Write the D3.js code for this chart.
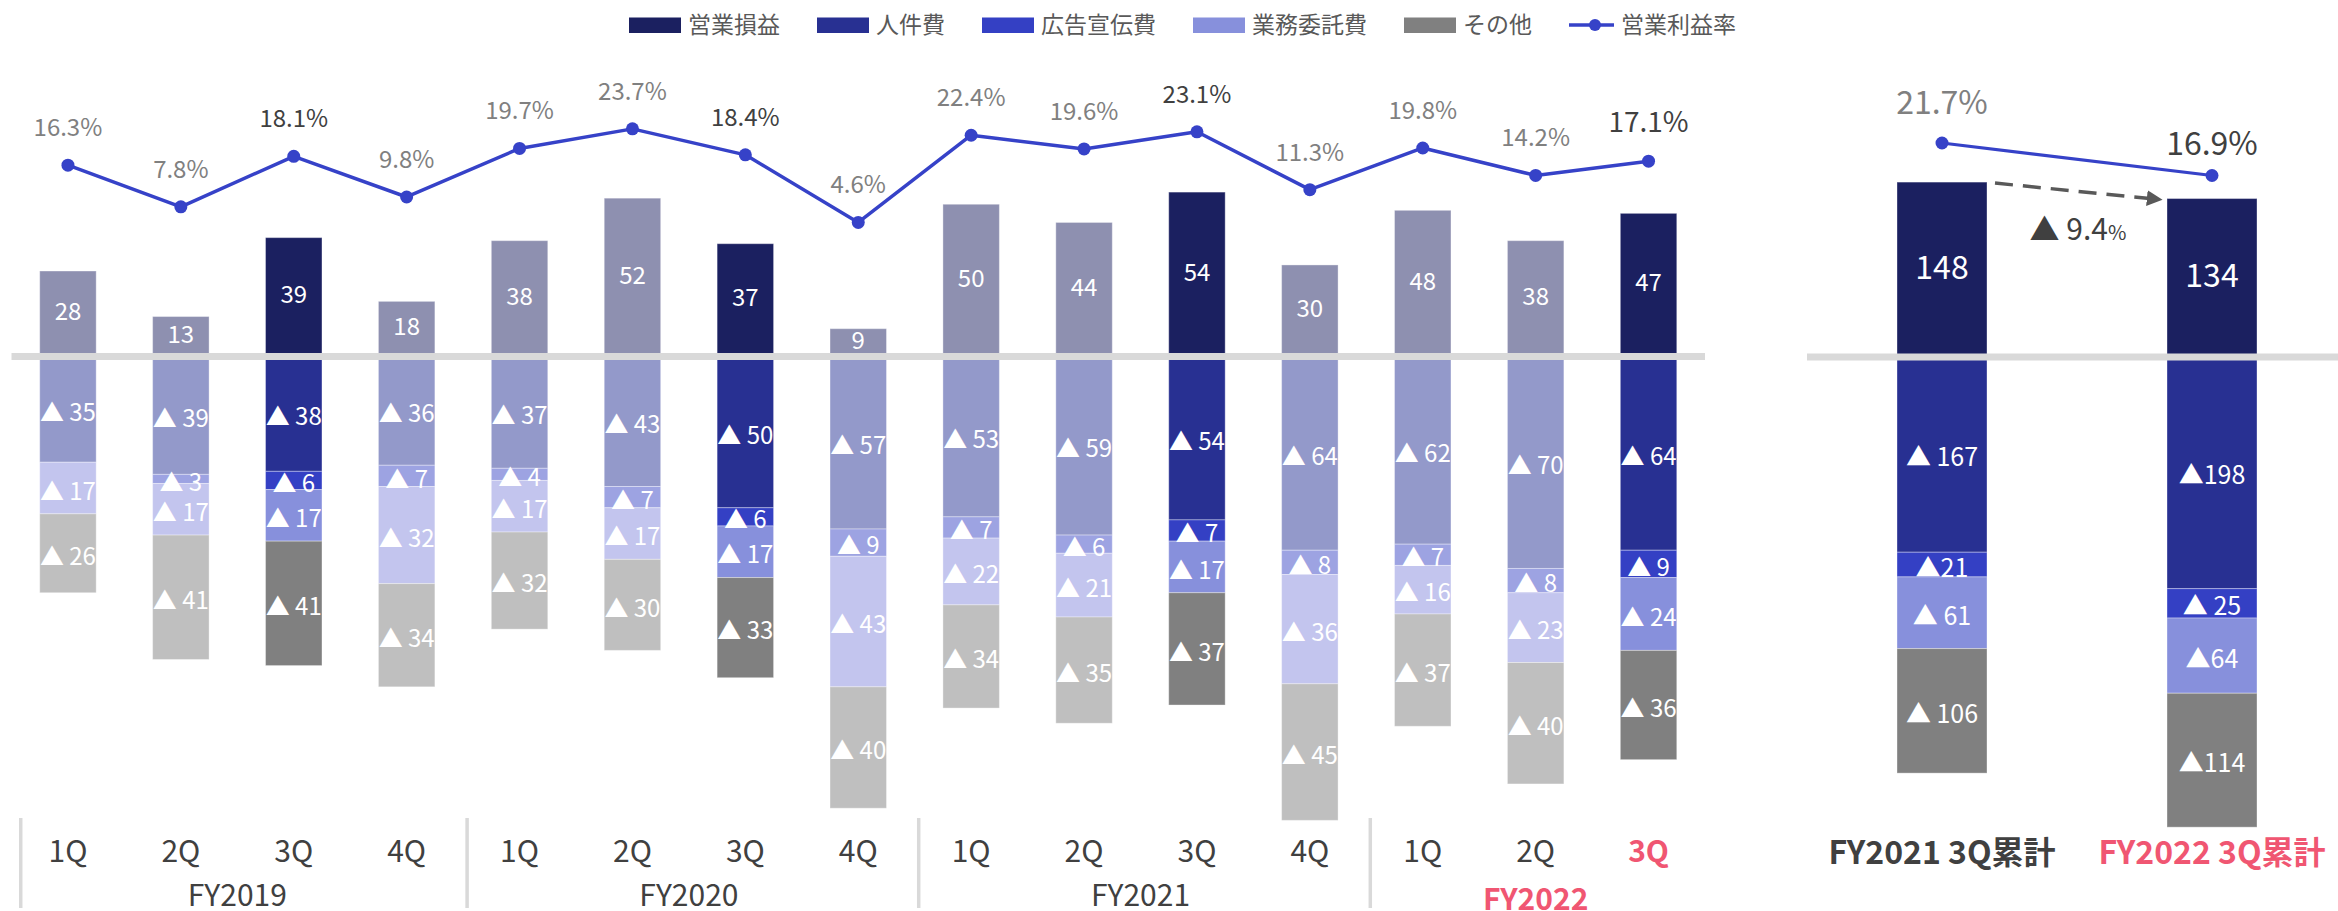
<!DOCTYPE html>
<html>
<head>
<meta charset="utf-8">
<script src="https://cdn.jsdelivr.net/npm/d3@7"></script>
<style>
  html, body { margin: 0; padding: 0; background: #fff; }
  svg { display: block; }
  text { font-family: "Noto Sans CJK JP", "Noto Sans", sans-serif; }
</style>
</head>
<body>
<svg id="chart" width="2338" height="911"></svg>
<script>
// ---------------- DATA ----------------
const quarters = ["1Q","2Q","3Q","4Q","1Q","2Q","3Q","4Q","1Q","2Q","3Q","4Q","1Q","2Q","3Q"];
const fiscalYears = ["FY2019","FY2020","FY2021","FY2022"];
const profit      = [28, 13, 39, 18, 38, 52, 37,  9, 50, 44, 54, 30, 48, 38, 47];
const personnel   = [35, 39, 38, 36, 37, 43, 50, 57, 53, 59, 54, 64, 62, 70, 64];
const advertising = [ 0,  3,  6,  7,  4,  7,  6,  9,  7,  6,  7,  8,  7,  8,  9];
const outsourcing = [17, 17, 17, 32, 17, 17, 17, 43, 22, 21, 17, 36, 16, 23, 24];
const other       = [26, 41, 41, 34, 32, 30, 33, 40, 34, 35, 37, 45, 37, 40, 36];
const margin      = [16.3, 7.8, 18.1, 9.8, 19.7, 23.7, 18.4, 4.6, 22.4, 19.6, 23.1, 11.3, 19.8, 14.2, 17.1];

const cumCategories  = ["FY2021 3Q累計", "FY2022 3Q累計"];
const cumProfit      = [148, 134];
const cumPersonnel   = [167, 198];
const cumAdvertising = [21, 25];
const cumOutsourcing = [61, 64];
const cumOther       = [106, 114];
const cumMargin      = [21.7, 16.9];
const cumCostLabels  = [["▲ 167","▲21","▲ 61","▲ 106"], ["▲198","▲ 25","▲64","▲114"]];
const cumChange      = "9.4";

const legendLabels = ["営業損益","人件費","広告宣伝費","業務委託費","その他","営業利益率"];

// ---------------- STYLE ----------------
const strong = ["#1b2060", "#283092", "#3440c4", "#8790dc", "#808080"];
const faded  = ["#8e90b0", "#9399ca", "#9da3e2", "#c3c5ee", "#bfbfbf"];
const lineColor = "#3642c8";
const pink = "#f05672";
const dark = "#404040";
const grey = "#808080";

const svg = d3.select("#chart");
const font = '"Noto Sans CJK JP", "Noto Sans", sans-serif';

// ---------------- SCALES ----------------
const idx = d3.range(quarters.length);
const x = d3.scaleBand().domain(idx).range([11.5, 1705]).paddingInner(0.5).paddingOuter(0.25);
const y = d3.scaleLinear().domain([-150, 60]).range([356 + 150 * 3.035, 356 - 60 * 3.035]);
const yP = d3.scaleLinear().domain([0, 25]).range([245, 245 - 25 * 4.9]);

const xr = d3.scaleBand().domain([0, 1]).range([1807, 2347]).paddingInner(2 / 3).paddingOuter(1 / 3);
const yr = d3.scaleLinear().domain([-410, 150]).range([356 + 410 * 1.175, 356 - 150 * 1.175]);
const yPr = d3.scaleLinear().domain([0, 25]).range([289.9, 289.9 - 25 * 6.77]);

const isHL = i => quarters[i] === "3Q";

// ---------------- LEFT BARS ----------------
const gBars = svg.append("g");
const gLabels = svg.append("g");
idx.forEach(i => {
  const pal = isHL(i) ? strong : faded;
  const bx = x(i), bw = x.bandwidth(), cx = bx + bw / 2;
  // profit
  gBars.append("rect").attr("x", bx).attr("width", bw)
    .attr("y", y(profit[i])).attr("height", y(0) - y(profit[i]))
    .attr("fill", pal[0]).attr("stroke", "rgba(255,255,255,0.35)").attr("stroke-width", 1);
  gLabels.append("text").attr("x", cx).attr("y", (y(profit[i]) + y(0)) / 2 - 2).attr("dy", "0.36em")
    .attr("text-anchor", "middle").attr("fill", "#fff").attr("font-size", 24).text(profit[i]);
  // costs
  const costs = [personnel[i], advertising[i], outsourcing[i], other[i]];
  let acc = 0;
  costs.forEach((v, k) => {
    if (v <= 0) return;
    const top = y(-acc), bot = y(-(acc + v));
    gBars.append("rect").attr("x", bx).attr("width", bw)
      .attr("y", top).attr("height", bot - top)
      .attr("fill", pal[k + 1]).attr("stroke", "rgba(255,255,255,0.35)").attr("stroke-width", 1);
    gLabels.append("text").attr("x", cx).attr("y", (top + bot) / 2 + 3).attr("dy", "0.36em")
      .attr("text-anchor", "middle").attr("fill", "#fff").attr("font-size", 24).text("▲ " + v);
    acc += v;
  });
});

// ---------------- RIGHT BARS ----------------
[0, 1].forEach(j => {
  const bx = xr(j), bw = xr.bandwidth(), cx = bx + bw / 2;
  gBars.append("rect").attr("x", bx).attr("width", bw)
    .attr("y", yr(cumProfit[j])).attr("height", yr(0) - yr(cumProfit[j]))
    .attr("fill", strong[0]).attr("stroke", "rgba(255,255,255,0.35)").attr("stroke-width", 1);
  gLabels.append("text").attr("x", cx).attr("y", (yr(cumProfit[j]) + yr(0)) / 2 - 2).attr("dy", "0.36em")
    .attr("text-anchor", "middle").attr("fill", "#fff").attr("font-size", 32).text(cumProfit[j]);
  const costs = [cumPersonnel[j], cumAdvertising[j], cumOutsourcing[j], cumOther[j]];
  let acc = 0;
  costs.forEach((v, k) => {
    const top = yr(-acc), bot = yr(-(acc + v));
    gBars.append("rect").attr("x", bx).attr("width", bw)
      .attr("y", top).attr("height", bot - top)
      .attr("fill", strong[k + 1]).attr("stroke", "rgba(255,255,255,0.35)").attr("stroke-width", 1);
    gLabels.append("text").attr("x", cx).attr("y", (top + bot) / 2 + 3).attr("dy", "0.36em")
      .attr("text-anchor", "middle").attr("fill", "#fff").attr("font-size", 25).text(cumCostLabels[j][k]);
    acc += v;
  });
});

// ---------------- ZERO LINES ----------------
gLabels.lower();
gBars.lower();
svg.append("line").attr("x1", x.range()[0]).attr("x2", x.range()[1])
  .attr("y1", y(0) + 0.5).attr("y2", y(0) + 0.5).attr("stroke", "#d9d9d9").attr("stroke-width", 7);
svg.append("line").attr("x1", xr.range()[0]).attr("x2", 2338)
  .attr("y1", yr(0) + 1).attr("y2", yr(0) + 1).attr("stroke", "#d9d9d9").attr("stroke-width", 7);
// labels above the zero lines
svg.node().appendChild(gLabels.node());

// ---------------- MARGIN LINE (LEFT) ----------------
const line = d3.line().x(i => x(i) + x.bandwidth() / 2).y(i => yP(margin[i]));
svg.append("path").attr("d", line(idx)).attr("fill", "none")
  .attr("stroke", lineColor).attr("stroke-width", 3.5).attr("stroke-linejoin", "round");
svg.selectAll(".dotL").data(idx).join("circle")
  .attr("cx", i => x(i) + x.bandwidth() / 2).attr("cy", i => yP(margin[i])).attr("r", 6.5)
  .attr("fill", lineColor);
svg.selectAll(".pctL").data(idx).join("text")
  .attr("x", i => x(i) + x.bandwidth() / 2).attr("y", i => yP(margin[i]) - 29)
  .attr("text-anchor", "middle")
  .attr("font-size", i => i === idx.length - 1 ? 28 : 24)
  .attr("fill", i => isHL(i) ? dark : grey)
  .text(i => margin[i].toFixed(1) + "%");

// ---------------- MARGIN LINE (RIGHT) ----------------
const lineR = d3.line().x(j => xr(j) + xr.bandwidth() / 2).y(j => yPr(cumMargin[j]));
svg.append("path").attr("d", lineR([0, 1])).attr("fill", "none")
  .attr("stroke", lineColor).attr("stroke-width", 3.2);
svg.selectAll(".dotR").data([0, 1]).join("circle")
  .attr("cx", j => xr(j) + xr.bandwidth() / 2).attr("cy", j => yPr(cumMargin[j])).attr("r", 6.5)
  .attr("fill", lineColor);
svg.selectAll(".pctR").data([0, 1]).join("text")
  .attr("x", j => xr(j) + xr.bandwidth() / 2).attr("y", j => yPr(cumMargin[j]) - (j === 0 ? 29 : 20))
  .attr("text-anchor", "middle").attr("font-size", 32)
  .attr("fill", j => j === 0 ? grey : dark)
  .text(j => cumMargin[j].toFixed(1) + "%");

// dashed arrow between the cumulative bars
svg.append("defs").append("marker").attr("id", "arr")
  .attr("viewBox", "0 0 10 10").attr("refX", 9).attr("refY", 5)
  .attr("markerWidth", 4.5).attr("markerHeight", 4.5).attr("orient", "auto")
  .attr("markerUnits", "strokeWidth")
  .append("path").attr("d", "M0,0 L10,5 L0,10 z").attr("fill", "#595959");
svg.append("line")
  .attr("x1", xr(0) + xr.bandwidth() + 8).attr("y1", yr(cumProfit[0]) + 1)
  .attr("x2", xr(1) - 6).attr("y2", yr(cumProfit[1]) + 1)
  .attr("stroke", "#595959").attr("stroke-width", 3.5).attr("stroke-dasharray", "18,10")
  .attr("marker-end", "url(#arr)");
const chg = svg.append("text")
  .attr("x", (xr(0) + xr.bandwidth() + xr(1)) / 2 + 1).attr("y", 240)
  .attr("text-anchor", "middle").attr("fill", dark).attr("font-size", 30);
chg.append("tspan").text("▲ " + cumChange);
chg.append("tspan").attr("font-size", 20).text("%");

// ---------------- X AXIS LABELS ----------------
svg.selectAll(".ql").data(idx).join("text")
  .attr("x", i => x(i) + x.bandwidth() / 2).attr("y", 862)
  .attr("text-anchor", "middle").attr("font-size", 30)
  .attr("font-weight", i => i === idx.length - 1 ? 700 : 400)
  .attr("fill", i => i === idx.length - 1 ? pink : dark)
  .text(i => quarters[i]);

fiscalYears.forEach((fy, k) => {
  const members = idx.filter(i => Math.floor(i / 4) === k);
  const cx = d3.mean(members, i => x(i) + x.bandwidth() / 2);
  const last = k === fiscalYears.length - 1;
  svg.append("text").attr("x", cx).attr("y", last ? 910 : 906)
    .attr("text-anchor", "middle").attr("font-size", 30)
    .attr("font-weight", last ? 700 : 400)
    .attr("fill", last ? pink : dark).text(fy);
  const sx = k === 0 ? x(members[0]) - 19 : x(members[0]) - (x.step() - x.bandwidth()) / 2 + 4;
  svg.append("line").attr("x1", sx).attr("x2", sx).attr("y1", 818).attr("y2", 908)
    .attr("stroke", "#d9d9d9").attr("stroke-width", 3.5);
});

svg.selectAll(".cl").data([0, 1]).join("text")
  .attr("x", j => xr(j) + xr.bandwidth() / 2).attr("y", 864)
  .attr("text-anchor", "middle").attr("font-size", 32).attr("font-weight", 700)
  .attr("fill", j => j === 1 ? pink : dark)
  .text(j => cumCategories[j]);

// ---------------- LEGEND ----------------
const lg = svg.append("g");
let lx = 629;
legendLabels.forEach((lab, k) => {
  const isLine = k === legendLabels.length - 1;
  if (isLine) {
    lg.append("line").attr("x1", lx).attr("x2", lx + 45).attr("y1", 25).attr("y2", 25)
      .attr("stroke", lineColor).attr("stroke-width", 3.5);
    lg.append("circle").attr("cx", lx + 26).attr("cy", 25).attr("r", 6).attr("fill", lineColor);
  } else {
    lg.append("rect").attr("x", lx).attr("y", 17.5).attr("width", 52).attr("height", 15.5)
      .attr("fill", strong[k]);
  }
  const t = lg.append("text").attr("x", lx + (isLine ? 52 : 59)).attr("y", 33)
    .attr("font-size", 23).attr("fill", "#595959").text(lab);
  lx += (isLine ? 52 : 59) + t.node().getComputedTextLength() + 37;
});
</script>
</body>
</html>
